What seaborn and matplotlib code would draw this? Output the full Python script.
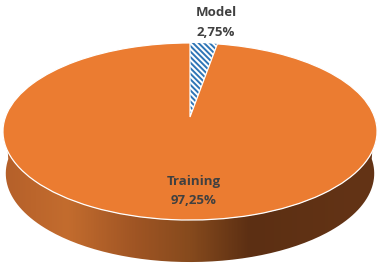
import numpy as np
import matplotlib
matplotlib.use("Agg")
import matplotlib.pyplot as plt
from matplotlib.transforms import Transform
from matplotlib.patches import PathPatch
from matplotlib.path import Path
from matplotlib.colors import LinearSegmentedColormap
import seaborn as sns

# data
categories = ["Model", "Training"]
values = [2.75, 97.25]

# style
slice_colors = ["white", "#EB7C31"]
hatch_color = "#2E75B6"
text_color = "#404040"
wall_stops = [(0.0, "#B5602A"), (0.17, "#C36C2E"), (0.35, "#A05524"), (0.5, "#864A1D"),
              (0.66, "#5C2F13"), (1.0, "#643416")]

sns.set_theme(style="white")
plt.rcParams["font.family"] = ["Open Sans", "DejaVu Sans"]
plt.rcParams["hatch.linewidth"] = 1.4

W, H = 383, 268
fig = plt.figure(figsize=(W / 100, H / 100), dpi=100)
ax = fig.add_axes([0, 0, 1, 1])


class Perspective(Transform):
    """Maps the unit pie onto the tilted disc, in pixel-like axes units."""
    input_dims = output_dims = 2

    def __init__(self, cx=190.0, cy=117.0, d=184.5, a=-67.0, c=0.1638, drop=0.0, scale=1.0):
        super().__init__()
        self.p = (cx, cy, d, a, c, drop, scale)

    def transform_non_affine(self, xy):
        cx, cy, d, a, c, drop, scale = self.p
        xy = np.asarray(xy, float)
        w = 1 + c * xy[:, 1]
        return np.column_stack([cx + scale * d * xy[:, 0] / w,
                                drop + (a * xy[:, 1] + cy) / w])


top = Perspective()
low = Perspective(drop=42.0, scale=0.985)

# side wall: gradient clipped to the area between the top rim and lower rim
t = np.linspace(np.pi, 2 * np.pi, 200)
rim = np.column_stack([np.cos(t), np.sin(t)])
wall = np.vstack([top.transform_non_affine(rim), low.transform_non_affine(rim)[::-1]])
cmap = LinearSegmentedColormap.from_list("wall", wall_stops)
grad = ax.imshow(np.linspace(0, 1, 400)[None, :], cmap=cmap, aspect="auto",
                 extent=(3, 377, 268, 100), zorder=1)
grad.set_clip_path(PathPatch(Path(np.vstack([wall, wall[:1]])), transform=ax.transData))

# pie through the library, then tilted
wedges, _ = ax.pie(values, colors=sns.color_palette(slice_colors), startangle=90,
                   counterclock=False, radius=1.0, center=(0, 0),
                   wedgeprops=dict(linewidth=0))
for w in wedges:
    w.set_transform(top + ax.transData)
    w.set_zorder(2)
wedges[0].set_hatch("\\\\\\\\\\\\")
wedges[0].set_edgecolor(hatch_color)
wedges[0].set_linewidth(0)
wedges[1].set_edgecolor("white")
wedges[1].set_linewidth(0.9)

ax.set_aspect("auto")
ax.set_xlim(0, W)
ax.set_ylim(H, 0)
ax.axis("off")

# labels
positions = {"Model": (216, 12.5, 32), "Training": (194, 182, 201)}
for name, v in zip(categories, values):
    x, y1, y2 = positions[name]
    ax.text(x, y1, name, ha="center", va="center", fontsize=9.5, fontweight="bold",
            color=text_color, zorder=5)
    ax.text(x, y2, f"{v:.2f}%".replace(".", ","), ha="center", va="center", fontsize=9.5,
            fontweight="bold", color=text_color, zorder=5)

fig.savefig("out.png", dpi=100, facecolor="white")
